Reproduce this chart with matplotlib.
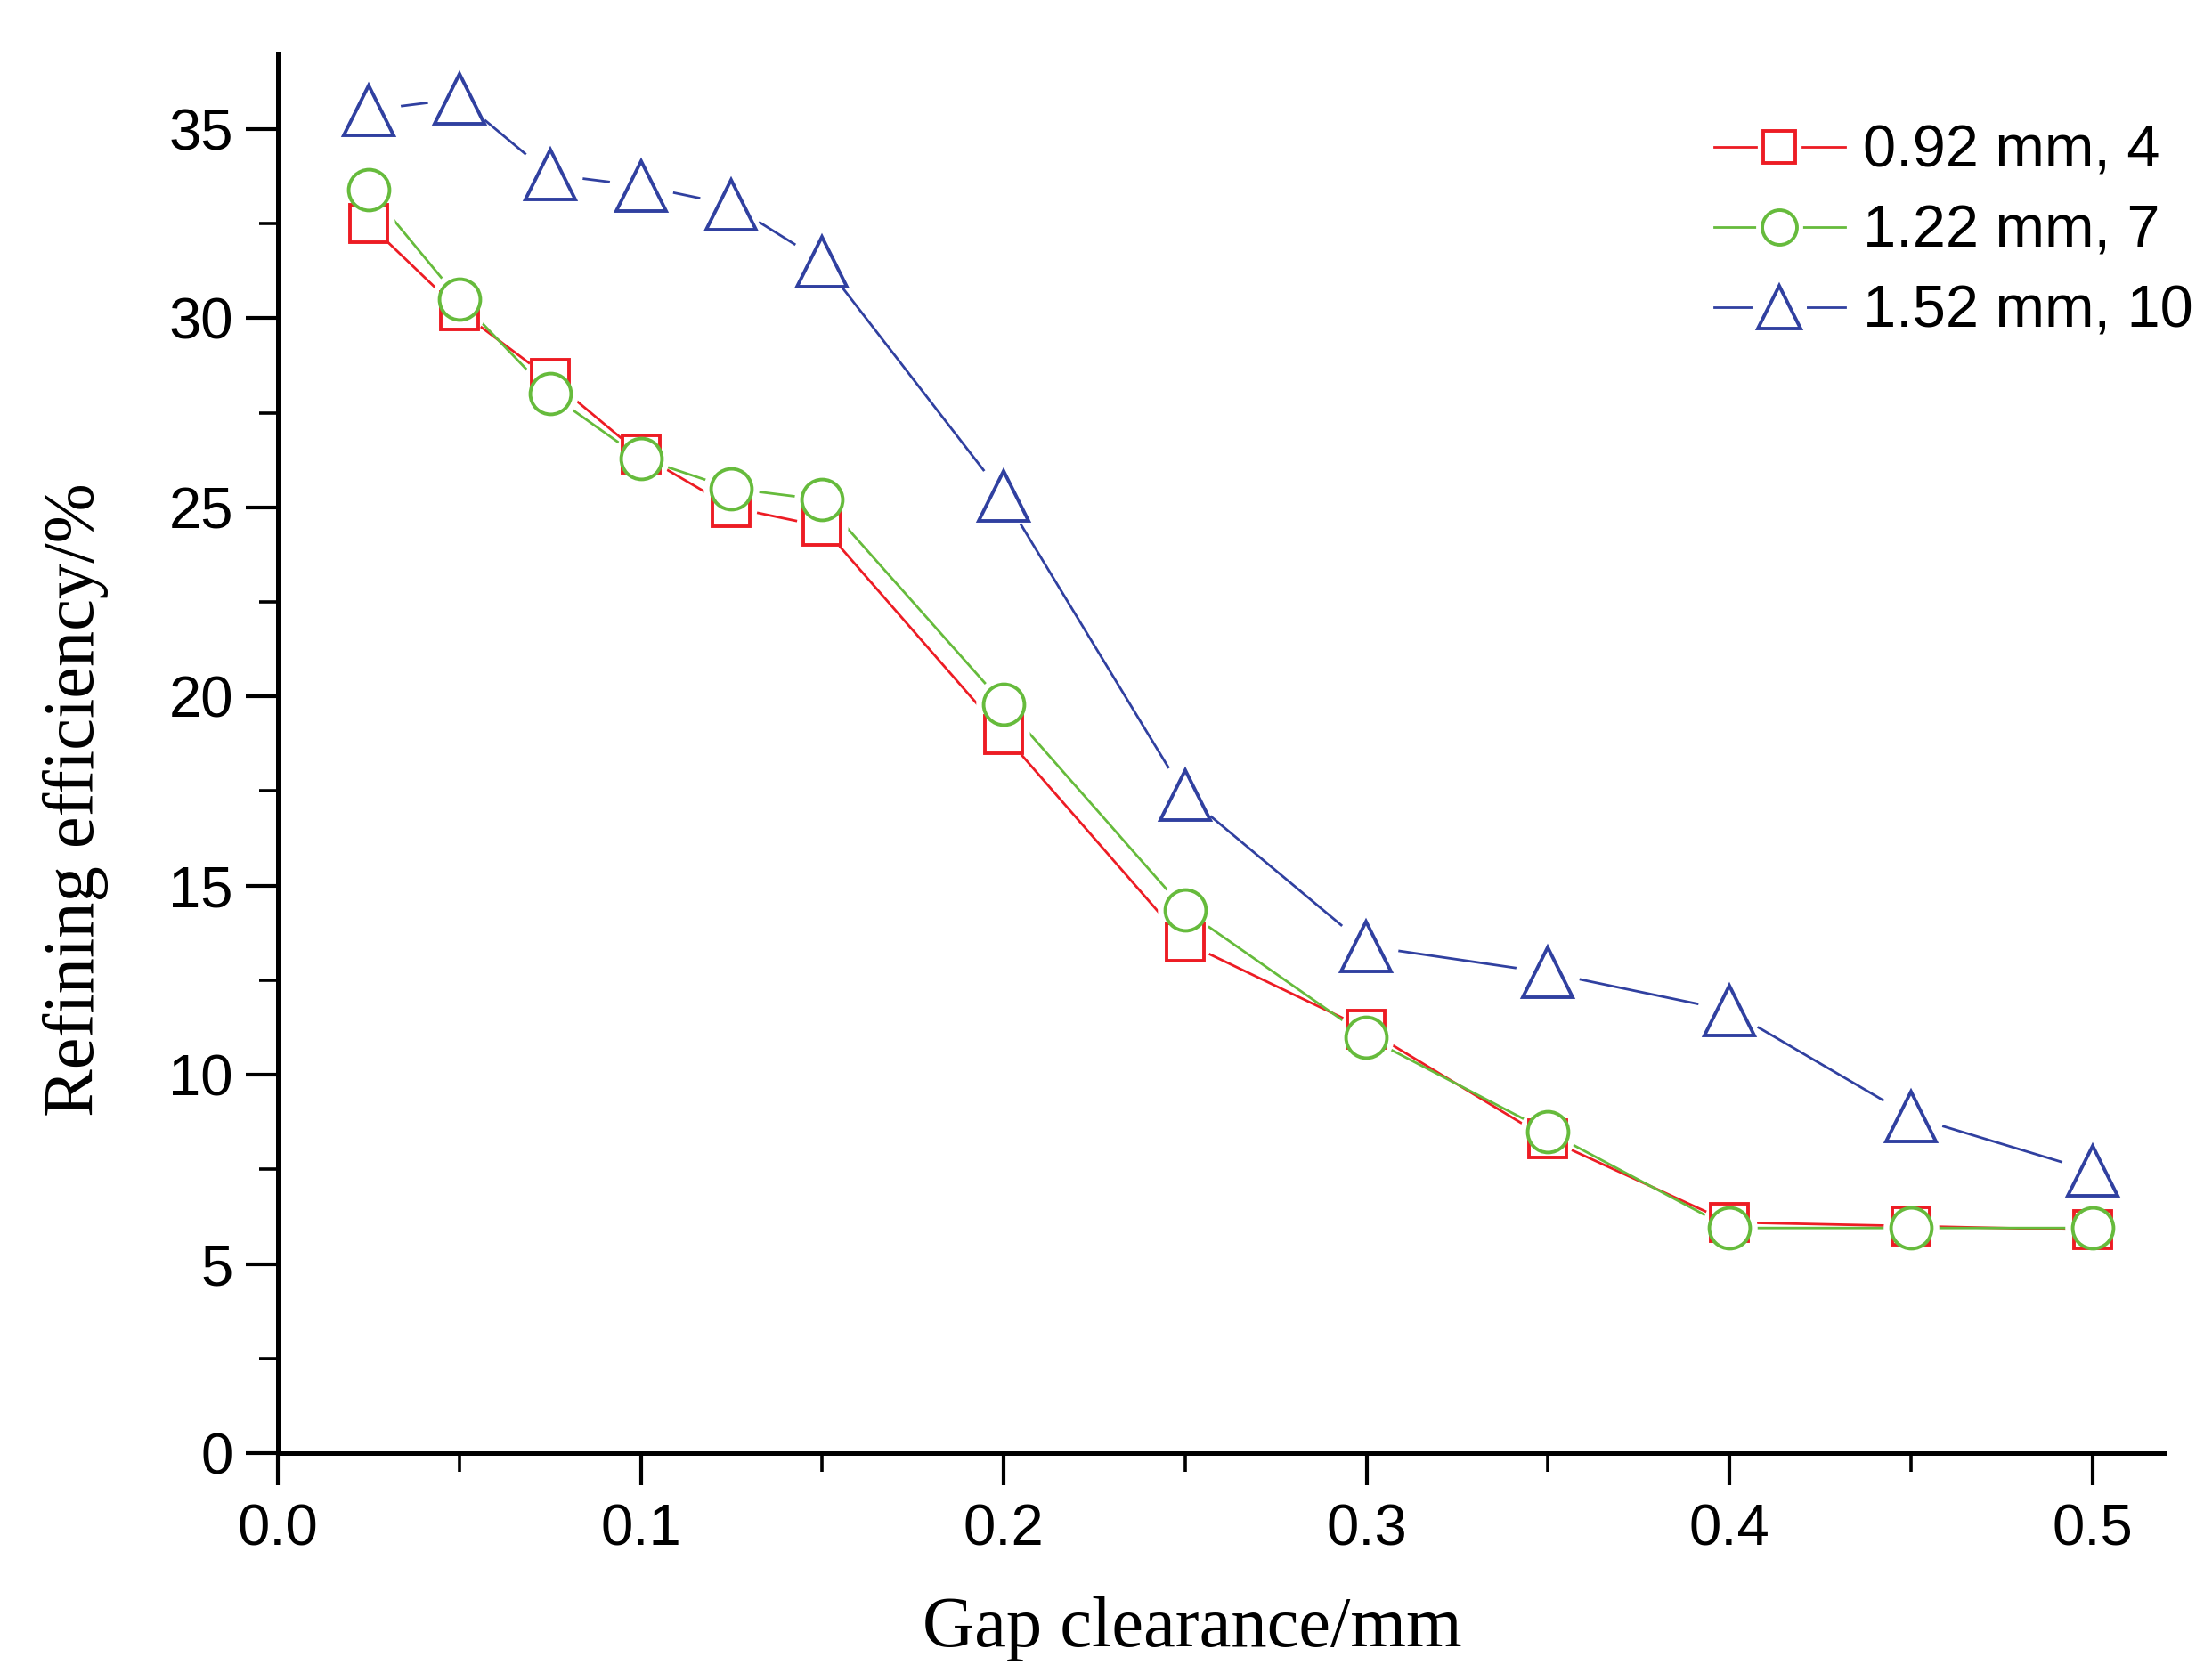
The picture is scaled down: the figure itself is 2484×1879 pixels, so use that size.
import numpy as np
import matplotlib
matplotlib.use('Agg')
import matplotlib.pyplot as plt
from matplotlib.ticker import MultipleLocator
from matplotlib.lines import Line2D
from matplotlib.legend_handler import HandlerTuple

# gap clearance (mm)
gap = [0.025, 0.05, 0.075, 0.1, 0.125, 0.15, 0.2, 0.25, 0.3, 0.35, 0.4, 0.45, 0.5]

# refining efficiency (%) for each bar width / bar count
eff_092 = [32.5, 30.2, 28.4, 26.4, 25.0, 24.5, 19.0, 13.5, 11.2, 8.3, 6.1, 6.0, 5.9]
eff_122 = [33.4, 30.5, 28.0, 26.3, 25.5, 25.2, 19.8, 14.35, 11.0, 8.5, 5.95, 5.95, 5.95]
eff_152 = [35.5, 35.8, 33.8, 33.5, 33.0, 31.5, 25.3, 17.4, 13.4, 12.7, 11.7, 8.9, 7.45]

labels = ['0.92 mm, 4', '1.22 mm, 7', '1.52 mm, 10']

W, H = 2484, 1879
fig = plt.figure(figsize=(W / 100, H / 100), dpi=100)
ax = fig.add_axes([312 / W, 1 - 1632 / H, 2119 / W, 1572 / H])

tick_font = ['Liberation Sans', 'DejaVu Sans']
label_font = ['Liberation Serif', 'DejaVu Serif']

series = [
    (eff_092, '#ED1C24', 's', 30),
    (eff_122, '#66BB3C', 'o', 33),
    (eff_152, '#3040A0', '^', 40),
]
for (vals, col, mk, ms), lab in zip(series, labels):
    # plain line underneath
    ax.plot(gap, vals, color=col, lw=2.0, zorder=1, clip_on=False)
    # white halo so the line stops short of each marker (Origin style)
    ax.plot(gap, vals, ls='none', marker='o', ms=ms + 12, mfc='white',
            mec='none', zorder=2, clip_on=False)

handles = []
for (vals, col, mk, ms), lab in zip(series, labels):
    ax.plot(gap, vals, ls='none', marker=mk, ms=ms, mfc='white',
            mec=col, mew=2.8, zorder=3, clip_on=False)
    # legend proxies: line, white gap, marker (overlaid)
    h_line = Line2D([], [], color=col, lw=2.0)
    h_gap = Line2D([], [], ls='none', marker='o', ms=ms * 0.85 + 10,
                   mfc='white', mec='none')
    h_mk = Line2D([], [], ls='none', marker=mk, ms=ms * 0.85, mfc='white',
                  mec=col, mew=2.8)
    handles.append((h_line, h_gap, h_mk))

ax.set_xlim(0, 0.52)
ax.set_ylim(0, 37)
ax.xaxis.set_major_locator(MultipleLocator(0.1))
ax.xaxis.set_minor_locator(MultipleLocator(0.05))
ax.yaxis.set_major_locator(MultipleLocator(5))
ax.yaxis.set_minor_locator(MultipleLocator(2.5))
ax.set_xticks(np.arange(0, 0.51, 0.1))
ax.set_xticklabels(['0.0', '0.1', '0.2', '0.3', '0.4', '0.5'])

for s in ['top', 'right']:
    ax.spines[s].set_visible(False)
for s in ['left', 'bottom']:
    ax.spines[s].set_linewidth(3.6)

ax.tick_params(which='major', direction='out', length=26, width=3.0)
ax.tick_params(which='minor', direction='out', length=15, width=2.6)
ax.tick_params(axis='x', which='major', pad=15)
ax.tick_params(axis='y', which='major', pad=10)
for t in ax.get_xticklabels() + ax.get_yticklabels():
    t.set_family(tick_font)
    t.set_fontsize(47)

ax.set_xlabel('Gap clearance/mm', family=label_font, fontsize=58)
ax.set_ylabel('Refining efficiency/%', family=label_font, fontsize=58)
ax.xaxis.label.set_va('center')
ax.yaxis.label.set_va('center')
ax.xaxis.set_label_coords(0.5 + (845 * 1.584 - 312 - 2119 / 2) / 2119, (1632 - 1830) / 1572)
ax.yaxis.set_label_coords((85 - 312) / 2119, 0.5 + (1632 - 567 * 1.584 - 786) / 1572)

leg = ax.legend(handles, labels, loc='upper left',
                bbox_to_anchor=(1925 / W, 1 - 140 / H),
                bbox_transform=fig.transFigure, frameon=False,
                prop={'family': tick_font, 'size': 48},
                handler_map={tuple: HandlerTuple(ndivide=1, pad=0)},
                handlelength=2.2, handletextpad=0.3, labelspacing=0.42,
                borderpad=0, borderaxespad=0)

fig.savefig('out.png', dpi=100)
